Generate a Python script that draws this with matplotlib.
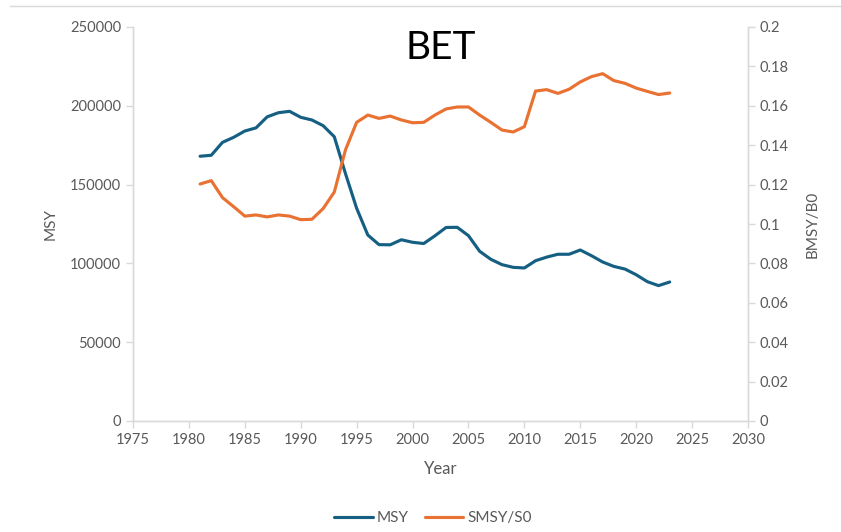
import matplotlib
matplotlib.use("Agg")
import matplotlib.pyplot as plt
from matplotlib.lines import Line2D

years = list(range(1981, 2024))
msy = [168000, 168600, 176800, 180000, 184000, 186000, 193000, 195600, 196500, 192700,
       191000, 187400, 180400, 157000, 135000, 118000, 111900, 111800, 115000, 113400,
       112600, 117500, 122800, 122900, 117600, 107700, 102600, 99200, 97500, 97100,
       101700, 104000, 105800, 105800, 108500, 104900, 100900, 98100, 96400, 92800,
       88400, 85900, 88200]
smsy_s0 = [0.1203, 0.1220, 0.1134, 0.1088, 0.1040, 0.1046, 0.1036, 0.1046, 0.1040, 0.1022,
           0.1024, 0.1078, 0.1162, 0.1376, 0.1516, 0.1553, 0.1536, 0.1548, 0.1528, 0.1514,
           0.1516, 0.1553, 0.1584, 0.1594, 0.1594, 0.1553, 0.1516, 0.1477, 0.1467, 0.1494,
           0.1675, 0.1682, 0.1663, 0.1684, 0.1721, 0.1748, 0.1763, 0.1728, 0.1714, 0.1690,
           0.1673, 0.1657, 0.1665]
x_ticks = list(range(1975, 2031, 5))
left_ticks = list(range(0, 250001, 50000))
right_ticks = [0, 0.02, 0.04, 0.06, 0.08, 0.1, 0.12, 0.14, 0.16, 0.18, 0.2]
right_labels = ["0", "0.02", "0.04", "0.06", "0.08", "0.1", "0.12", "0.14", "0.16", "0.18", "0.2"]

plt.rcParams['font.family'] = ['Lato', 'DejaVu Sans']
tick_color = '#595959'
spine_color = '#d9d9d9'
blue = '#156082'
orange = '#e97132'

fig = plt.figure(figsize=(8.41, 5.32), dpi=100)
ax = fig.add_axes([133/841, 1-421/532, (748-133)/841, (421-27)/532])
ax2 = ax.twinx()

l1, = ax.plot(years, msy, color=blue, lw=2.25, solid_capstyle='round', solid_joinstyle='round')
l2, = ax2.plot(years, smsy_s0, color=orange, lw=2.25, solid_capstyle='round', solid_joinstyle='round')

ax.set_xlim(1975, 2030)
ax.set_ylim(0, 250000)
ax2.set_ylim(0, 0.2)
ax.set_xticks(x_ticks)
ax.set_yticks(left_ticks)
ax2.set_yticks(right_ticks)
ax2.set_yticklabels(right_labels)

for a in (ax, ax2):
    for s in a.spines.values():
        s.set_color(spine_color)
        s.set_linewidth(1.0)
    a.spines['top'].set_visible(False)
    a.tick_params(colors=tick_color, labelsize=10.5, length=5, width=1.0)
    a.tick_params(axis='both', color=spine_color)

ax.set_xlabel('Year', color=tick_color, fontsize=12, labelpad=10)
ax.set_ylabel('MSY', color=tick_color, fontsize=11, labelpad=9)
ax2.set_ylabel('BMSY/B0', color=tick_color, fontsize=11, labelpad=12)

fig.text(441/841, 1-48/532, 'BET', ha='center', va='center', fontsize=28, color='black')

fig.legend([l1, l2], ['MSY', 'SMSY/S0'], loc='center', bbox_to_anchor=(433/841, 1-518/532),
           ncol=2, frameon=False, fontsize=11, labelcolor=tick_color, handlelength=2.5,
           columnspacing=1.1, handletextpad=0.25)

fig.add_artist(Line2D([0.012, 1], [1-6/532, 1-6/532], color=spine_color, lw=1.0))

fig.savefig('out.png', dpi=100)
